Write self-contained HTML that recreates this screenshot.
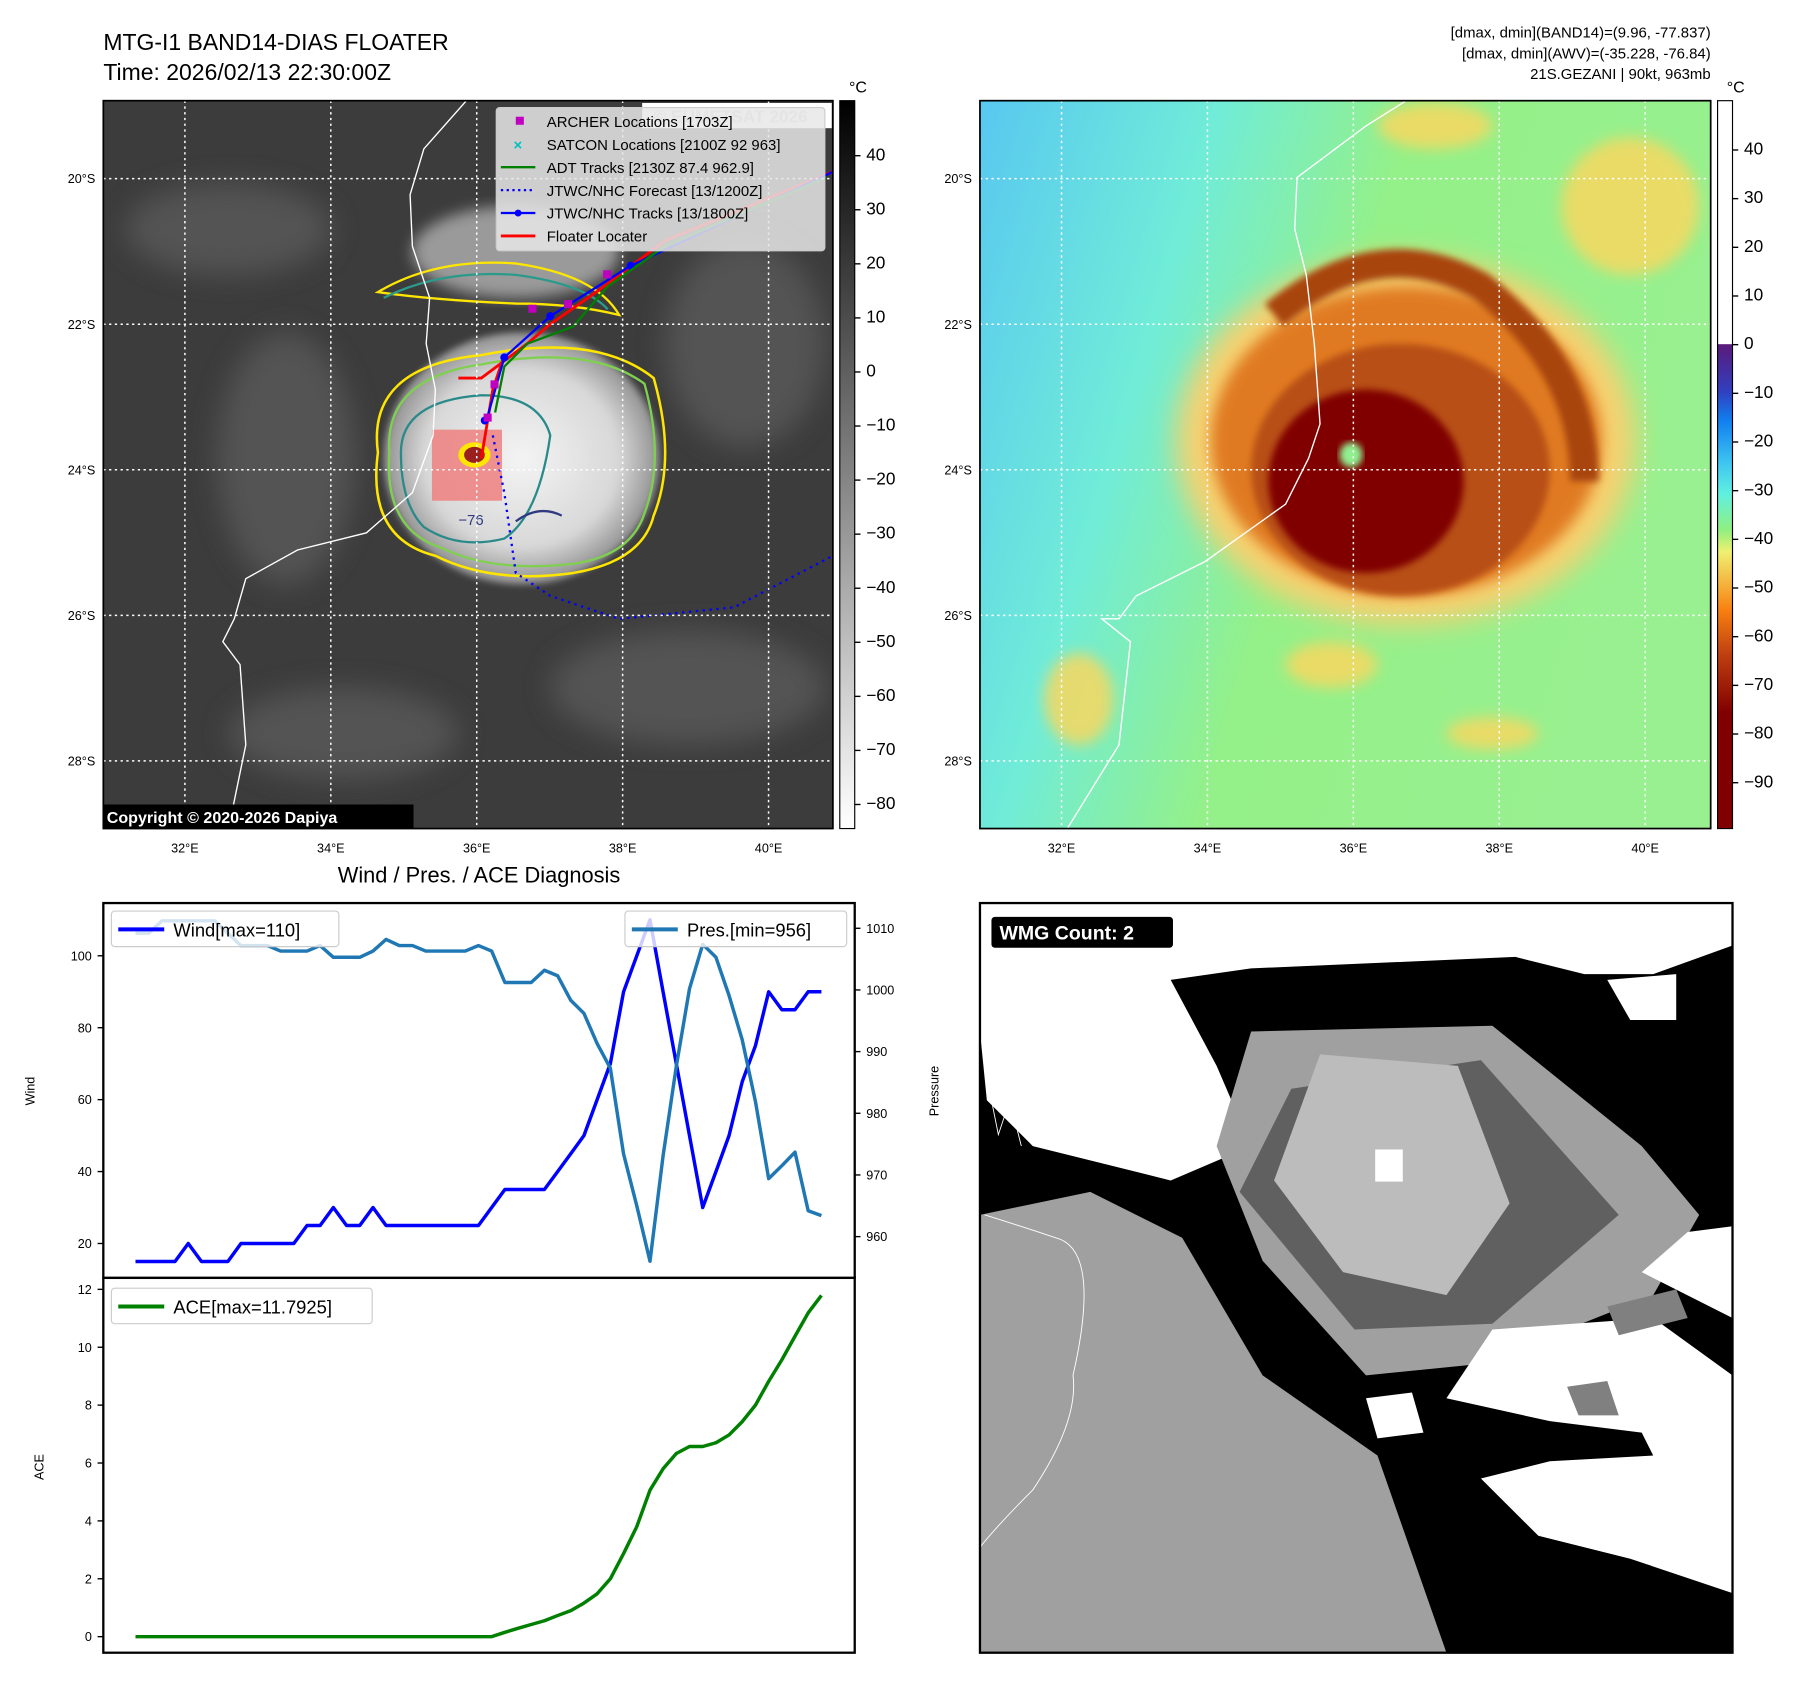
<!DOCTYPE html>
<html><head><meta charset="utf-8"><style>
html,body{margin:0;padding:0;background:#fff;}
svg{display:block;font-family:"Liberation Sans","DejaVu Sans",sans-serif;}
</style></head><body>
<svg id="fig" width="1797" height="1690" viewBox="0 0 1560 1467" preserveAspectRatio="none" xmlns="http://www.w3.org/2000/svg">
<defs>
<filter id="b6"><feGaussianBlur stdDeviation="6"/></filter>
<filter id="b12"><feGaussianBlur stdDeviation="12"/></filter>
<filter id="b3"><feGaussianBlur stdDeviation="3"/></filter>
<clipPath id="cl1"><rect x="91" y="88" width="635" height="635"/></clipPath>
<clipPath id="cl2"><rect x="854" y="88" width="636" height="635"/></clipPath>
<clipPath id="cl3"><rect x="854" y="788" width="655" height="654"/></clipPath>
<linearGradient id="gcb" x1="0" y1="0" x2="0" y2="1"><stop offset="0" stop-color="#000"/><stop offset="1" stop-color="#fff"/></linearGradient>
<linearGradient id="jcb" x1="0" y1="0" x2="0" y2="1">
<stop offset="0" stop-color="#fff"/><stop offset="0.334" stop-color="#fff"/><stop offset="0.335" stop-color="#5a1a7a"/>
<stop offset="0.40" stop-color="#3040c0"/><stop offset="0.44" stop-color="#1080f0"/><stop offset="0.50" stop-color="#40c8f0"/>
<stop offset="0.54" stop-color="#60f0e0"/><stop offset="0.59" stop-color="#90f080"/><stop offset="0.62" stop-color="#f0f070"/>
<stop offset="0.70" stop-color="#f88010"/><stop offset="0.76" stop-color="#c04010"/><stop offset="0.84" stop-color="#800000"/><stop offset="1" stop-color="#800000"/></linearGradient>
<linearGradient id="bg2" x1="0" y1="0" x2="1" y2="0.3"><stop offset="0" stop-color="#58c8f0"/><stop offset="0.3" stop-color="#70ecd8"/><stop offset="0.55" stop-color="#94f088"/><stop offset="1" stop-color="#98f090"/></linearGradient>
<radialGradient id="wb"><stop offset="0" stop-color="#f4f4f4"/><stop offset="0.7" stop-color="#d8d8d8"/><stop offset="1" stop-color="#909090"/></radialGradient>
</defs>
<g transform="translate(89.7 87.4) scale(0.9974 0.995) translate(-91 -88)">

<text x="91" y="44" font-size="20">MTG-I1 BAND14-DIAS FLOATER</text>
<text x="91" y="70" font-size="20">Time: 2026/02/13 22:30:00Z</text>
<g font-size="13" text-anchor="end">
<text x="1490" y="33">[dmax, dmin](BAND14)=(9.96, -77.837)</text>
<text x="1490" y="51">[dmax, dmin](AWV)=(-35.228, -76.84)</text>
<text x="1490" y="69">21S.GEZANI | 90kt, 963mb</text>
</g>

<g clip-path="url(#cl1)">
<rect x="91" y="88" width="635" height="635" fill="#3c3c3c"/>
<g filter="url(#b12)" fill="#5a5a5a" opacity="0.8">
<ellipse cx="200" cy="200" rx="90" ry="40"/><ellipse cx="600" cy="600" rx="120" ry="50"/><ellipse cx="300" cy="640" rx="100" ry="40"/><ellipse cx="650" cy="300" rx="70" ry="90"/><ellipse cx="250" cy="400" rx="60" ry="110"/>
</g>
<ellipse cx="450" cy="220" rx="90" ry="40" fill="#9a9a9a" filter="url(#b6)"/>
<ellipse cx="455" cy="400" rx="120" ry="110" fill="url(#wb)" filter="url(#b3)"/>
<path d="M330 255 Q380 225 450 230 Q520 240 540 275 Q500 265 450 265 Q380 262 330 255Z" fill="none" stroke="#ffe600" stroke-width="2"/>
<path d="M335 260 Q385 235 450 240 Q510 248 530 270" fill="none" stroke="#2a9a8a" stroke-width="2"/>
<path d="M330 395 Q320 320 420 310 Q520 290 570 330 Q590 400 570 450 Q560 490 500 500 Q430 510 380 485 Q320 470 330 395Z" fill="none" stroke="#ffe600" stroke-width="2.2"/>
<path d="M340 395 Q335 330 420 318 Q515 300 562 335 Q580 400 562 448 Q550 485 500 492 Q430 500 385 478 Q335 462 340 395Z" fill="none" stroke="#80d050" stroke-width="2"/>
<path d="M350 395 Q350 350 420 345 Q470 345 480 380 Q470 450 440 470 Q400 480 370 460 Q350 440 350 395Z" fill="none" stroke="#2a8a8a" stroke-width="2"/>
<path d="M450 455 Q470 440 490 450" fill="none" stroke="#303a80" stroke-width="2"/>
<text x="400" y="458" font-size="13" fill="#303a80">−76</text>
<rect x="377" y="375" width="61" height="62" fill="#f08080" opacity="0.85"/>
<ellipse cx="414" cy="397" rx="14" ry="11" fill="#ffe600"/><ellipse cx="414" cy="397" rx="9" ry="7" fill="#9a2020"/>
<path d="M407 88 L370 130 L358 170 L360 215 L375 260 L372 300 L380 340 L378 380 L360 430 L320 465 L260 480 L215 505 L205 540 L195 560 L210 580 L215 650 L200 723" fill="none" stroke="#fff" stroke-width="1.2"/>
<path d="M726 150 L580 210 L520 255 L480 283 L460 300 L420 330 L400 330" fill="none" stroke="#ff0000" stroke-width="2.5"/>
<path d="M440 310 L430 340 L420 400" fill="none" stroke="#ff0000" stroke-width="2.5"/>
<path d="M726 150 L550 232 L480 276 L440 312 L425 365" fill="none" stroke="#0000ff" stroke-width="2"/>
<g fill="#0000ff"><circle cx="550" cy="232" r="3.5"/><circle cx="480" cy="276" r="3.5"/><circle cx="440" cy="312" r="3.5"/><circle cx="423" cy="367" r="3.5"/></g>
<path d="M720 155 L580 215 L530 250 L500 285 L460 300 L440 320 L432 360" fill="none" stroke="#008000" stroke-width="2"/>
<path d="M430 380 L440 430 L450 500 L480 520 L540 540 L640 530 L726 485" fill="none" stroke="#0000ff" stroke-width="2" stroke-dasharray="2,4"/>
<g fill="#c000c0"><rect x="526" y="236" width="7" height="7"/><rect x="492" y="262" width="7" height="7"/><rect x="461" y="266" width="7" height="7"/><rect x="428" y="332" width="7" height="7"/><rect x="422" y="361" width="7" height="7"/></g>
<g stroke="#fff" stroke-width="1.3" stroke-dasharray="2,3">
<line x1="162" y1="88" x2="162" y2="723"/><line x1="289" y1="88" x2="289" y2="723"/><line x1="416" y1="88" x2="416" y2="723"/><line x1="543" y1="88" x2="543" y2="723"/><line x1="670" y1="88" x2="670" y2="723"/>
<line x1="91" y1="156" x2="726" y2="156"/><line x1="91" y1="283" x2="726" y2="283"/><line x1="91" y1="410" x2="726" y2="410"/><line x1="91" y1="537" x2="726" y2="537"/><line x1="91" y1="664" x2="726" y2="664"/>
</g>
<rect x="560" y="90" width="165" height="22" fill="#fff"/>
<text x="570" y="107" font-size="15" fill="#ccc" font-weight="bold">© EUMETSAT 2026</text>
<g>
<rect x="433" y="94" width="286" height="125" rx="3" fill="#e8e8e8" fill-opacity="0.85" stroke="#ccc"/>
<g font-size="13" fill="#000">
<rect x="450" y="102" width="7" height="7" fill="#c000c0"/><text x="477" y="111">ARCHER Locations [1703Z]</text>
<text x="448" y="131" fill="#00c0c0" font-size="13" font-weight="bold">×</text><text x="477" y="131">SATCON Locations [2100Z 92 963]</text>
<line x1="437" y1="146" x2="467" y2="146" stroke="#008000" stroke-width="2"/><text x="477" y="151">ADT Tracks [2130Z 87.4 962.9]</text>
<line x1="437" y1="166" x2="467" y2="166" stroke="#0000ff" stroke-width="2" stroke-dasharray="2,3"/><text x="477" y="171">JTWC/NHC Forecast [13/1200Z]</text>
<line x1="437" y1="186" x2="467" y2="186" stroke="#0000ff" stroke-width="2"/><circle cx="452" cy="186" r="3" fill="#0000ff"/><text x="477" y="191">JTWC/NHC Tracks [13/1800Z]</text>
<line x1="437" y1="206" x2="467" y2="206" stroke="#ff0000" stroke-width="2.5"/><text x="477" y="211">Floater Locater</text>
</g></g>
<rect x="91" y="702" width="270" height="21" fill="#000"/>
<text x="94" y="718" font-size="14" font-weight="bold" fill="#fff">Copyright © 2020-2026 Dapiya</text>
</g>
<rect x="91" y="88" width="635" height="635" fill="none" stroke="#000" stroke-width="1.5"/>

<g clip-path="url(#cl2)">
<rect x="854" y="88" width="636" height="635" fill="url(#bg2)"/>
<g filter="url(#b6)" fill="#f8d860" opacity="0.85">
<ellipse cx="1420" cy="180" rx="60" ry="60"/><ellipse cx="1160" cy="580" rx="40" ry="20"/><ellipse cx="1300" cy="640" rx="40" ry="14"/><ellipse cx="940" cy="610" rx="30" ry="40"/><ellipse cx="1250" cy="110" rx="50" ry="20"/>
</g>
<ellipse cx="1225" cy="385" rx="200" ry="160" fill="#f8d070" filter="url(#b12)"/>
<ellipse cx="1225" cy="385" rx="170" ry="135" fill="#e07a20" filter="url(#b6)"/>
<path d="M1110 275 Q1200 200 1290 250 Q1380 320 1380 420" fill="none" stroke="#a84510" stroke-width="25" filter="url(#b3)"/>
<ellipse cx="1220" cy="410" rx="130" ry="110" fill="#b85014" filter="url(#b3)"/>
<ellipse cx="1190" cy="420" rx="85" ry="80" fill="#800000" filter="url(#b3)"/>
<ellipse cx="1177" cy="397" rx="10" ry="11" fill="#90f090" filter="url(#b3)"/>
<path d="M1225 88 L1190 110 L1130 155 L1128 200 L1138 240 L1145 300 L1150 370 L1140 400 L1120 440 L1050 490 L990 520 L975 540 L960 540 L985 560 L975 650 L930 723" fill="none" stroke="#fff" stroke-width="1.2"/>
<g stroke="#fff" stroke-width="1.3" stroke-dasharray="2,3">
<line x1="925" y1="88" x2="925" y2="723"/><line x1="1052" y1="88" x2="1052" y2="723"/><line x1="1179" y1="88" x2="1179" y2="723"/><line x1="1306" y1="88" x2="1306" y2="723"/><line x1="1433" y1="88" x2="1433" y2="723"/>
<line x1="854" y1="156" x2="1490" y2="156"/><line x1="854" y1="283" x2="1490" y2="283"/><line x1="854" y1="410" x2="1490" y2="410"/><line x1="854" y1="537" x2="1490" y2="537"/><line x1="854" y1="664" x2="1490" y2="664"/>
</g>
</g>
<rect x="854" y="88" width="636" height="635" fill="none" stroke="#000" stroke-width="1.5"/>

<g font-size="11" fill="#000">
<g text-anchor="end"><text x="84" y="160">20°S</text><text x="84" y="287">22°S</text><text x="84" y="414">24°S</text><text x="84" y="541">26°S</text><text x="84" y="668">28°S</text>
<text x="847" y="160">20°S</text><text x="847" y="287">22°S</text><text x="847" y="414">24°S</text><text x="847" y="541">26°S</text><text x="847" y="668">28°S</text></g>
<g text-anchor="middle"><text x="162" y="744">32°E</text><text x="289" y="744">34°E</text><text x="416" y="744">36°E</text><text x="543" y="744">38°E</text><text x="670" y="744">40°E</text>
<text x="925" y="744">32°E</text><text x="1052" y="744">34°E</text><text x="1179" y="744">36°E</text><text x="1306" y="744">38°E</text><text x="1433" y="744">40°E</text></g>
</g>

<g>
<rect x="732" y="88" width="13" height="635" fill="url(#gcb)" stroke="#000"/>
<text x="740" y="81" font-size="14">°C</text>
<g font-size="15" id="cb1"></g>
</g>
<g>
<rect x="1496" y="88" width="13" height="635" fill="url(#jcb)" stroke="#000"/>
<text x="1504" y="81" font-size="14">°C</text>
<g font-size="15" id="cb2"></g>
</g>

<text x="418" y="770" font-size="19" text-anchor="middle">Wind / Pres. / ACE Diagnosis</text>
<rect x="91" y="788" width="654" height="327" fill="#fff" stroke="#000" stroke-width="2"/>
<rect x="91" y="1115" width="654" height="327" fill="#fff" stroke="#000" stroke-width="2"/>
<text transform="translate(31,952) rotate(-90)" font-size="11" text-anchor="middle">Wind</text>
<text transform="translate(818,952) rotate(-90)" font-size="11" text-anchor="middle">Pressure</text>
<text transform="translate(39,1280) rotate(-90)" font-size="11" text-anchor="middle">ACE</text>
<g id="chart"></g>
<g>
<rect x="98" y="795" width="198" height="31" rx="3" fill="#fff" fill-opacity="0.8" stroke="#ccc"/>
<line x1="104" y1="811" x2="144" y2="811" stroke="#0000ff" stroke-width="3.5"/>
<text x="152" y="817" font-size="16">Wind[max=110]</text></g>
<g>
<rect x="545" y="795" width="193" height="31" rx="3" fill="#fff" fill-opacity="0.8" stroke="#ccc"/>
<line x1="551" y1="811" x2="591" y2="811" stroke="#1f77b4" stroke-width="3.5"/>
<text x="599" y="817" font-size="16">Pres.[min=956]</text></g>
<g>
<rect x="98" y="1124" width="227" height="31" rx="3" fill="#fff" fill-opacity="0.8" stroke="#ccc"/>
<line x1="104" y1="1140" x2="144" y2="1140" stroke="#008000" stroke-width="3.5"/>
<text x="152" y="1146" font-size="16">ACE[max=11.7925]</text></g>

<g clip-path="url(#cl3)">
<rect x="854" y="788" width="655" height="654" fill="#000"/>
<polygon fill="#fff" points="854,788 1509,788 1509,825 1440,850 1380,850 1320,835 1090,845 1020,855 1060,930 1090,1000 1020,1030 960,1015 900,1000 860,960 854,900"/>
<polygon fill="#fff" points="1400,855 1460,850 1460,890 1420,890"/>
<polygon fill="#a0a0a0" points="1090,900 1300,895 1430,1000 1480,1060 1440,1130 1290,1190 1190,1200 1100,1100 1060,1000"/>
<polygon fill="#606060" points="1125,950 1290,925 1410,1060 1300,1155 1180,1160 1080,1040"/>
<polygon fill="#bcbcbc" points="1150,920 1270,930 1315,1050 1260,1130 1170,1110 1110,1030"/>
<rect x="1198" y="1003" width="24" height="28" fill="#fff"/>
<polygon fill="#a0a0a0" points="854,1060 950,1040 1030,1080 1100,1200 1200,1270 1260,1442 854,1442"/>
<polygon fill="#fff" points="1509,1070 1470,1075 1430,1110 1509,1150"/>
<polygon fill="#fff" points="1300,1160 1440,1150 1509,1200 1509,1390 1420,1360 1340,1340 1290,1290 1350,1275 1440,1270 1430,1250 1350,1240 1260,1220"/>
<polygon fill="#808080" points="1400,1140 1460,1125 1470,1150 1410,1165"/>
<polygon fill="#808080" points="1365,1210 1400,1205 1410,1235 1375,1235"/>
<polygon fill="#fff" points="1190,1220 1230,1215 1240,1250 1200,1255"/>
<path d="M858 1060 Q890 1070 920 1080 Q960 1090 935 1200 Q940 1240 900 1300 Q870 1330 854 1350" fill="none" stroke="#fff" stroke-width="0.8"/>
<path d="M860 940 L870 990 L880 960 L890 1000" fill="none" stroke="#fff" stroke-width="0.8"/>
<rect x="864" y="800" width="158" height="27" rx="3" fill="#000"/>
<text x="871" y="820" font-size="17" font-weight="bold" fill="#fff">WMG Count: 2</text>
</g>
<rect x="854" y="788" width="655" height="654" fill="none" stroke="#000" stroke-width="2"/>
</g>
</svg>
<script>
var windValues=[15,15,15,15,20,15,15,15,20,20,20,20,20,25,25,30,25,25,30,25,25,25,25,25,25,25,25,30,35,35,35,35,40,45,50,60,70,90,100,110,90,70,50,30,40,50,65,75,90,85,85,90,90];
var presValues=[1009.2,1009.2,1011.2,1011.2,1011.2,1011.2,1011.2,1009.2,1007.2,1007.2,1007.2,1006.3,1006.3,1006.3,1007.2,1005.3,1005.3,1005.3,1006.3,1008.2,1007.2,1007.2,1006.3,1006.3,1006.3,1006.3,1007.2,1006.3,1001.2,1001.2,1001.2,1003.2,1002.3,998.3,996.2,991.3,987.3,973.4,965,956,973.1,987.6,1000.2,1007.4,1005.3,999.1,991.9,981.9,969.4,971.5,973.7,964.2,963.4];
var aceValues=[0,0,0,0,0,0,0,0,0,0,0,0,0,0,0,0,0,0,0,0,0,0,0,0,0,0,0,0,0.15,0.29,0.42,0.55,0.73,0.9,1.16,1.48,2.0,2.87,3.8,5.06,5.8,6.33,6.57,6.57,6.7,6.97,7.43,8.0,8.82,9.57,10.38,11.19,11.79];
var windTicks=[20,40,60,80,100];
var presTicks=[960,970,980,990,1000,1010];
var aceTicks=[0,2,4,6,8,10,12];
var irTicks=[40,30,20,10,0,-10,-20,-30,-40,-50,-60,-70,-80];
var wvTicks=[40,30,20,10,0,-10,-20,-30,-40,-50,-60,-70,-80,-90];
var NS='http://www.w3.org/2000/svg';
function xS(i){return 119+i*(716-119)/(windValues.length-1);}
function yW(v){return 1085-(v-20)*(1085-834)/80;}
function yP(v){return 1079-(v-960)*(1079-810)/50;}
function yA(v){return 1428-v*(1428-1125)/12;}
function yIR(v){return 136+(40-v)*(702-136)/120;}
function yWV(v){return 131+(40-v)*(683-131)/130;}
var chart=document.getElementById('chart');
function mk(t,a,p){var e=document.createElementNS(NS,t);for(var k in a)e.setAttribute(k,a[k]);(p||chart).appendChild(e);return e;}
function line(vals,yf,col,name){var d=vals.map(function(v,i){return (i?'L':'M')+xS(i).toFixed(1)+' '+yf(v).toFixed(1);}).join(' ');
var p=mk('path',{d:d,fill:'none',stroke:col,'stroke-width':3,'stroke-linejoin':'round'});

}
function ticks(arr,yf,x,side,fmt,par,fs){arr.forEach(function(v){var y=yf(v);
var l=mk('line',{x1:x,x2:x+(side<0?-5:5),y1:y,y2:y,stroke:'#000','stroke-width':1.2},par);


var t=mk('text',{x:side<0?x-10:x+10,y:y+4,'font-size':fs||11,'text-anchor':side<0?'end':'start'},par);


t.textContent=fmt?fmt(v):v;});}
ticks(windTicks,yW,91,-1);
ticks(presTicks,yP,745,1);
ticks(aceTicks,yA,91,-1);
line(windValues,yW,'#0000ff','wind-line');
line(presValues,yP,'#1f77b4','pressure-line');
line(aceValues,yA,'#008000','ace-line');
var minus=function(v){return String(v).replace('-','\u2212');};
ticks(irTicks,yIR,745,1,minus,document.getElementById('cb1'),15);
ticks(wvTicks,yWV,1509,1,minus,document.getElementById('cb2'),15);
</script>
</body></html>
